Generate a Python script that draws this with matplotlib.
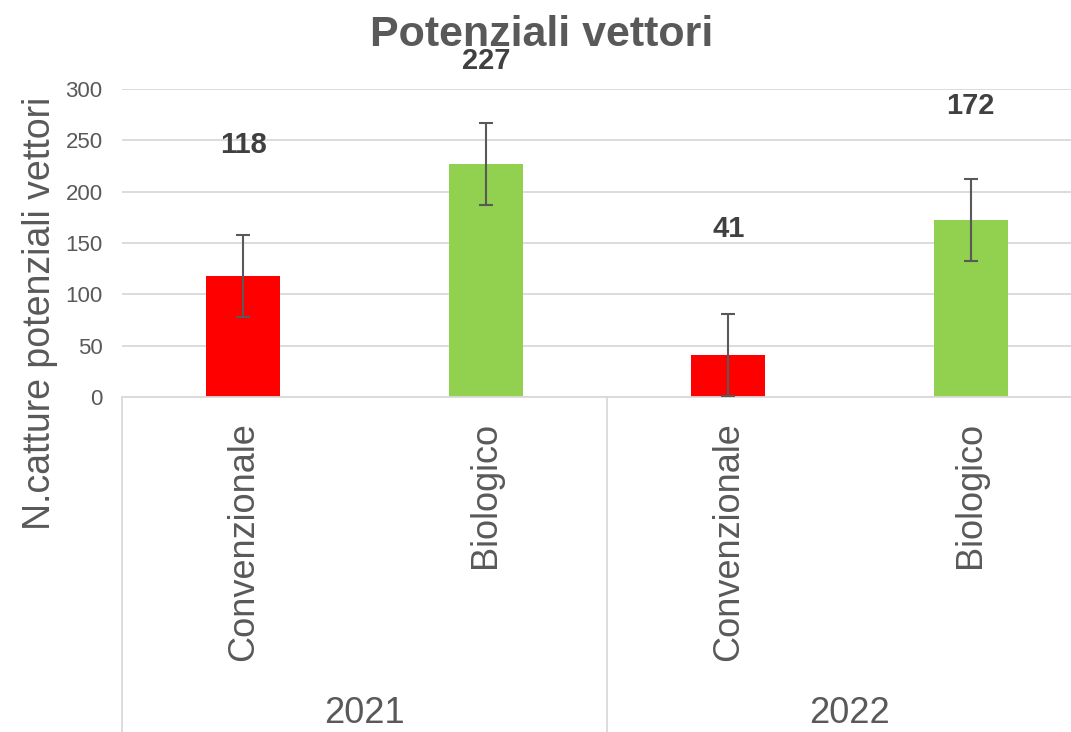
import matplotlib.pyplot as plt
import matplotlib.transforms as mtransforms
from matplotlib.lines import Line2D

years = ['2021', '2022']
sistemi = ['Convenzionale', 'Biologico']
catture = [118, 227, 41, 172]
errori = [40, 40, 40, 40]

# layout only: where Excel put the value labels (data units)
label_y = [245, 327, 164, 283]

RED = '#FF0000'
GREEN = '#92D050'
GREY = '#595959'
GRID = '#D9D9D9'

plt.rcParams['font.family'] = ['Liberation Sans', 'DejaVu Sans']

W, H = 1071, 732
fig = plt.figure(figsize=(W / 100, H / 100), dpi=100)
ax = fig.add_axes([122 / W, (H - 397) / H, (1092 - 122) / W, (397 - 89) / H])

x = list(range(len(catture)))
colors = [RED, GREEN] * len(years)
labels = sistemi * len(years)

ax.bar(x, catture, width=0.305, color=colors, zorder=2)
ax.errorbar(x, catture, yerr=errori, fmt='none', ecolor=GREY, elinewidth=1.5,
            capsize=5, capthick=1.5, zorder=3)

for xi, v, ly in zip(x, catture, label_y):
    ax.text(xi, ly, str(v), ha='center', va='center', fontsize=21,
            fontweight='bold', color='#404040')

ax.set_xlim(-0.5, 3.5)
ax.set_ylim(0, 300)
ax.set_yticks(range(0, 301, 50))
ax.yaxis.grid(True, color=GRID, linewidth=1.3, zorder=0)
ax.set_axisbelow(True)
for s in ['left', 'right', 'top']:
    ax.spines[s].set_visible(False)
ax.spines['bottom'].set_color(GRID)
ax.spines['bottom'].set_linewidth(1.3)
ax.tick_params(axis='y', length=0, pad=14, labelsize=16, labelcolor=GREY)
ax.tick_params(axis='x', length=0, pad=18, labelsize=26, labelcolor=GREY)
ax.set_xticks(x)
ax.set_xticklabels(labels, rotation=90, va='top', ha='center')

ax.set_ylabel('N.catture potenziali vettori', fontsize=27, color=GREY)
ax.yaxis.set_label_coords(-0.085, 0.27)
ax.yaxis.label.set_va('center')

# group separators and year labels
trans = mtransforms.blended_transform_factory(ax.transData, ax.transAxes)
for xs in [-0.5, 1.5, 3.5]:
    ax.add_line(Line2D([xs, xs], [0, -1.2], transform=trans, color=GRID,
                       linewidth=1.3, clip_on=False))
for i, yr in enumerate(years):
    ax.annotate(yr, xy=(2 * i + 0.5, 0), xycoords=trans, xytext=(0, -235),
                textcoords='offset points', ha='center', va='baseline',
                fontsize=26, color=GREY)

fig.text(542 / W, 1 - 46 / H, 'Potenziali vettori', ha='center', va='baseline',
         fontsize=31, fontweight='bold', color=GREY)

fig.savefig('out.png', dpi=100)
